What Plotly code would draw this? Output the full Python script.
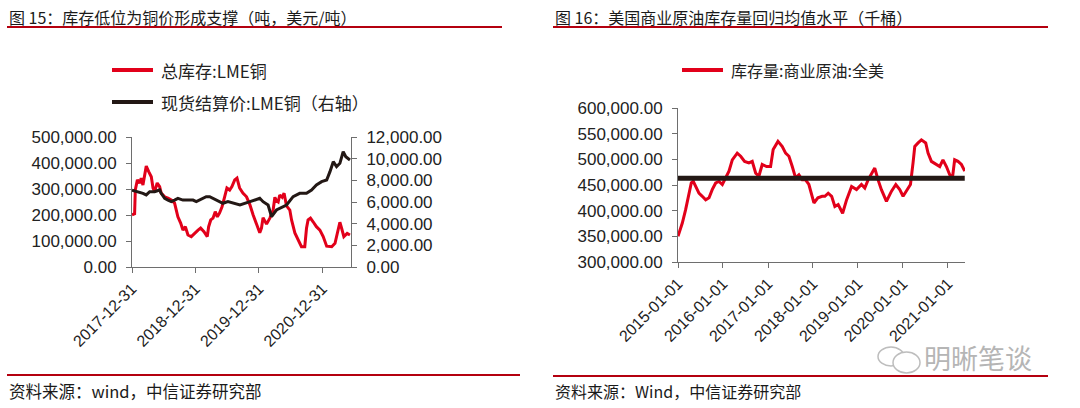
import plotly.graph_objects as go

# ---------------- Data: left chart (LME copper) ----------------
cu_stock_dates = [
    "2017-12-31", "2018-01-15", "2018-01-19", "2018-01-31", "2018-02-13", "2018-02-22",
    "2018-03-04", "2018-03-14", "2018-03-23", "2018-04-06", "2018-04-21", "2018-05-01",
    "2018-05-10", "2018-05-25", "2018-06-08", "2018-06-17", "2018-07-07", "2018-07-26",
    "2018-08-14", "2018-09-02", "2018-09-12", "2018-09-21", "2018-10-07", "2018-10-20",
    "2018-11-03", "2018-11-18", "2018-12-07", "2018-12-27", "2019-01-15", "2019-01-30",
    "2019-02-18", "2019-03-09", "2019-03-17", "2019-03-29", "2019-04-11", "2019-04-24",
    "2019-05-06", "2019-05-19", "2019-06-02", "2019-06-17", "2019-06-30", "2019-07-16",
    "2019-07-29", "2019-08-14", "2019-08-27", "2019-09-11", "2019-09-30", "2019-10-21",
    "2019-11-09", "2019-11-28", "2019-12-17", "2020-01-05", "2020-01-15", "2020-01-24",
    "2020-02-13", "2020-03-03", "2020-03-22", "2020-04-01", "2020-04-10", "2020-04-20",
    "2020-04-29", "2020-05-13", "2020-05-24", "2020-06-07", "2020-06-26", "2020-07-06",
    "2020-07-25", "2020-08-13", "2020-09-01", "2020-09-20", "2020-09-30", "2020-10-09",
    "2020-10-23", "2020-11-07", "2020-11-26", "2020-12-16", "2021-01-04", "2021-01-24",
    "2021-02-22", "2021-03-13", "2021-04-01", "2021-04-10", "2021-04-20", "2021-05-03",
    "2021-05-22", "2021-06-07",
]
cu_stock = [
    200000, 205000, 296000, 335000, 323000, 342000,
    315000, 350000, 388000, 367000, 347000, 304000,
    290000, 323000, 309000, 284000, 270000, 265000,
    258000, 246000, 219000, 193000, 169000, 142000,
    155000, 123000, 117000, 131000, 142000, 150000,
    136000, 117000, 155000, 181000, 188000, 213000,
    193000, 208000, 232000, 270000, 304000, 296000,
    309000, 335000, 342000, 304000, 284000, 270000,
    240000, 200000, 165000, 132000, 150000, 190000,
    165000, 188000, 219000, 268000, 255000, 250000,
    277000, 268000, 284000, 235000, 219000, 181000,
    131000, 104000, 78000, 78000, 149000, 181000,
    188000, 174000, 155000, 142000, 117000, 80000,
    78000, 91000, 149000, 172000, 149000, 117000,
    129000, 123000,
]

cu_price_dates = [
    "2017-12-31", "2018-02-04", "2018-03-04", "2018-03-23", "2018-04-12", "2018-05-10",
    "2018-06-08", "2018-06-17", "2018-07-07", "2018-07-26", "2018-08-14", "2018-09-02",
    "2018-09-21", "2018-10-20", "2018-11-18", "2018-12-17", "2019-01-05", "2019-01-24",
    "2019-02-12", "2019-03-03", "2019-03-23", "2019-04-11", "2019-04-30", "2019-05-19",
    "2019-06-07", "2019-07-06", "2019-08-04", "2019-09-02", "2019-09-13", "2019-11-10",
    "2020-01-05", "2020-01-24", "2020-02-22", "2020-03-13", "2020-04-10", "2020-06-07",
    "2020-07-15", "2020-08-22", "2020-09-30", "2020-10-29", "2020-11-26", "2020-12-26",
    "2021-01-24", "2021-02-12", "2021-03-03", "2021-03-22", "2021-04-10", "2021-04-29",
    "2021-05-14", "2021-06-07",
]
cu_price = [
    7100, 6950, 6800, 6650, 6950, 6950,
    7110, 6800, 6340, 6180, 6030, 6180,
    6340, 6180, 6180, 6180, 6030, 6180,
    6340, 6490, 6490, 6340, 6180, 6030,
    5880, 6030, 5880, 5720, 5720, 6030,
    6340, 6030, 5720, 4640, 5260, 5720,
    6490, 6800, 6800, 7110, 7570, 7880,
    8030, 8800, 9720, 9260, 9570, 10640,
    10180, 9880,
]
left_ticks = ["2017-12-31", "2018-12-31", "2019-12-31", "2020-12-31"]
left_names = ["总库存:LME铜", "现货结算价:LME铜（右轴）"]

# ---------------- Data: right chart (US crude stocks) ----------------
crude_dates = [
    "2015-01-01", "2015-02-05", "2015-03-04", "2015-03-31", "2015-04-19", "2015-05-05",
    "2015-05-25", "2015-06-20", "2015-07-17", "2015-08-14", "2015-09-10", "2015-10-06",
    "2015-11-03", "2015-11-30", "2015-12-27", "2016-01-23", "2016-02-19", "2016-03-17",
    "2016-04-26", "2016-05-24", "2016-06-25", "2016-07-30", "2016-08-26", "2016-09-23",
    "2016-10-19", "2016-11-15", "2016-12-21", "2017-01-22", "2017-02-12", "2017-03-23",
    "2017-04-27", "2017-05-24", "2017-06-20", "2017-07-17", "2017-08-13", "2017-09-09",
    "2017-10-06", "2017-11-02", "2017-11-29", "2018-01-09", "2018-02-10", "2018-03-17",
    "2018-04-08", "2018-05-05", "2018-06-02", "2018-06-28", "2018-07-25", "2018-08-30",
    "2018-10-01", "2018-11-11", "2018-12-21", "2019-01-30", "2019-02-26", "2019-03-25",
    "2019-04-21", "2019-05-18", "2019-06-14", "2019-07-11", "2019-08-21", "2019-10-01",
    "2019-11-05", "2019-12-07", "2020-01-03", "2020-01-30", "2020-03-03", "2020-03-24",
    "2020-04-07", "2020-05-04", "2020-05-31", "2020-07-05", "2020-07-24", "2020-08-20",
    "2020-09-30", "2020-10-27", "2020-11-22", "2020-12-20", "2021-01-16", "2021-02-07",
    "2021-02-25", "2021-03-24", "2021-04-21", "2021-05-18",
]
crude_stock = [
    350000, 376000, 402000, 434000, 454000, 457000,
    447000, 434000, 428000, 421000, 425000, 441000,
    454000, 457000, 451000, 464000, 477000, 499000,
    512000, 506000, 496000, 493000, 496000, 473000,
    467000, 490000, 486000, 486000, 519000, 535000,
    525000, 512000, 506000, 486000, 464000, 470000,
    460000, 460000, 451000, 415000, 425000, 428000,
    428000, 434000, 428000, 408000, 412000, 395000,
    421000, 447000, 441000, 451000, 444000, 460000,
    473000, 483000, 460000, 441000, 418000, 438000,
    451000, 441000, 428000, 438000, 451000, 493000,
    525000, 532000, 538000, 532000, 512000, 496000,
    490000, 486000, 499000, 486000, 470000, 464000,
    499000, 496000, 490000, 477000,
]
crude_mean = 463000
right_ticks = ["2015-01-01", "2016-01-01", "2017-01-01", "2018-01-01",
               "2019-01-01", "2020-01-01", "2021-01-01"]
right_name = "库存量:商业原油:全美"

# ---------------- Styling ----------------
RED = "#E2001A"
BLACK = "#231815"
DARKRED = "#B4000F"
FONT = "Liberation Sans, Noto Sans CJK SC, sans-serif"
CJK = "Noto Sans CJK SC, Liberation Sans, sans-serif"
TXT = "#222222"
AX = "#6e6e6e"

W, H = 1080, 408


def px_x(p):
    return p / W


def px_y(p):
    return 1 - p / H


fig = go.Figure()

fig.add_trace(go.Scatter(x=cu_stock_dates, y=cu_stock, mode="lines", name=left_names[0],
                         line=dict(color=RED, width=3), xaxis="x", yaxis="y", showlegend=False))
fig.add_trace(go.Scatter(x=cu_price_dates, y=cu_price, mode="lines", name=left_names[1],
                         line=dict(color=BLACK, width=3), xaxis="x", yaxis="y2", showlegend=False))
fig.add_trace(go.Scatter(x=crude_dates, y=crude_stock, mode="lines", name=right_name,
                         line=dict(color=RED, width=3), xaxis="x2", yaxis="y3", showlegend=False))
fig.add_trace(go.Scatter(x=[crude_dates[0], crude_dates[-1]], y=[crude_mean, crude_mean],
                         mode="lines", line=dict(color=BLACK, width=5), showlegend=False,
                         xaxis="x2", yaxis="y3", name="均值"))

ytickfont = dict(family=FONT, size=17, color=TXT)
xtickfont = dict(family=FONT, size=16, color=TXT)
common_x = dict(type="date", tickmode="array", showgrid=False, zeroline=False,
                showline=True, linecolor=AX, linewidth=1, ticks="outside", ticklen=5,
                tickcolor=AX, tickangle=-45, tickfont=xtickfont, automargin=False)
common_y = dict(showgrid=False, zeroline=False, showline=True, linecolor=AX, linewidth=1,
                ticks="outside", ticklen=5, tickcolor=AX, tickformat=",.2f",
                tickfont=ytickfont, ticklabelstandoff=6, automargin=False)

fig.update_layout(
    width=W, height=H, margin=dict(l=0, r=0, t=0, b=0, autoexpand=False),
    paper_bgcolor="white", plot_bgcolor="white", showlegend=False,
    xaxis=dict(common_x, domain=[px_x(132), px_x(351)], anchor="y",
               range=["2017-12-31", "2021-06-13"], tickvals=left_ticks, ticktext=left_ticks),
    yaxis=dict(common_y, domain=[px_y(267), px_y(137)], anchor="x",
               range=[0, 500000], dtick=100000),
    yaxis2=dict(common_y, overlaying="y", side="right", anchor="x",
                range=[0, 12000], dtick=2000),
    xaxis2=dict(common_x, domain=[px_x(678), px_x(965)], anchor="y3",
                range=["2015-01-01", "2021-05-20"], tickvals=right_ticks, ticktext=right_ticks),
    yaxis3=dict(common_y, domain=[px_y(262), px_y(108)], anchor="x2",
                range=[300000, 600000], dtick=50000),
)

# Legends (drawn as line samples + text)
legend_items = [
    (112, 153, 70, RED, left_names[0], 17),
    (112, 153, 102, BLACK, left_names[1], 17),
    (682, 723, 70, RED, right_name, 16),
]
for x0, x1, yy, col, name, fs in legend_items:
    fig.add_shape(type="line", xref="paper", yref="paper",
                  x0=px_x(x0), x1=px_x(x1), y0=px_y(yy), y1=px_y(yy),
                  line=dict(color=col, width=4))
    fig.add_annotation(x=px_x(x1 + 6), y=px_y(yy), xref="paper", yref="paper", text=name,
                       showarrow=False, xanchor="left", yanchor="middle",
                       font=dict(family=CJK, size=fs, color=TXT))

# Titles and sources
titles = [
    (7, 17, "图 15：库存低位为铜价形成支撑（吨，美元/吨）"),
    (553, 17, "图 16：美国商业原油库存量回归均值水平（千桶）"),
]
for x0, y0, t in titles:
    fig.add_annotation(x=px_x(x0), y=px_y(y0), xref="paper", yref="paper", text=t,
                       showarrow=False, xanchor="left", yanchor="middle",
                       font=dict(family=CJK, size=16, color="#1a1a1a"))
sources = [
    (7, 391, "资料来源：wind，中信证券研究部", 16.5),
    (553, 391, "资料来源：Wind，中信证券研究部", 16),
]
for x0, y0, t, fs in sources:
    fig.add_annotation(x=px_x(x0), y=px_y(y0), xref="paper", yref="paper", text=t,
                       showarrow=False, xanchor="left", yanchor="middle",
                       font=dict(family=CJK, size=fs, color="#1a1a1a"))

# Rules under titles and above sources
for (x0, x1, yy) in [(7, 502, 27), (553, 1048, 27), (7, 520, 375), (553, 1048, 376)]:
    fig.add_shape(type="line", xref="paper", yref="paper",
                  x0=px_x(x0), x1=px_x(x1), y0=px_y(yy), y1=px_y(yy),
                  line=dict(color=DARKRED, width=2))

# Watermark
fig.add_annotation(x=px_x(922), y=px_y(357), xref="paper", yref="paper", text="明晰笔谈",
                   showarrow=False, xanchor="left", yanchor="middle",
                   font=dict(family=CJK, size=27, color="#b5b5b5"))
fig.add_shape(type="circle", xref="paper", yref="paper",
              x0=px_x(878), x1=px_x(904), y0=px_y(366), y1=px_y(347),
              line=dict(color="#bdbdbd", width=1.5), fillcolor="white")
fig.add_shape(type="circle", xref="paper", yref="paper",
              x0=px_x(893), x1=px_x(920), y0=px_y(373), y1=px_y(352),
              line=dict(color="#bdbdbd", width=1.5), fillcolor="white")

# Remove the browser's default body margin so the figure fills the window exactly
fig.write_html("out.html", config={"displayModeBar": False},
               post_script="document.body.style.margin='0';")
